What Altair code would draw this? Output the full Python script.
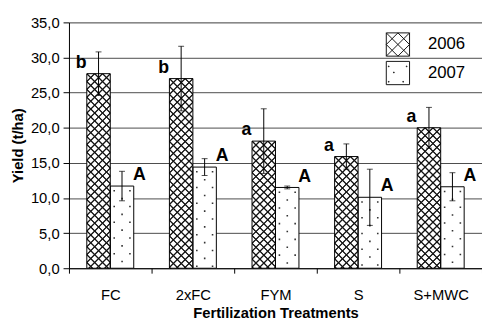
import math
import altair as alt

# ---- data ----
categories = ["FC", "2xFC", "FYM", "S", "S+MWC"]
years = ["2006", "2007"]
yield_2006 = [27.7, 27.0, 18.1, 15.9, 20.0]
sd_2006 = [3.1, 4.6, 4.6, 1.8, 2.9]
yield_2007 = [11.7, 14.4, 11.5, 10.1, 11.6]
sd_2007 = [2.1, 1.2, 0.2, 4.0, 2.0]
letters_2006 = ["b", "b", "a", "a", "a"]
letters_2007 = ["A", "A", "A", "A", "A"]
y_ticks = [0, 5, 10, 15, 20, 25, 30, 35]

# ---- layout / style ----
PLOT_W, PLOT_H, Y_MAX = 420, 250, 35
OUTER = 0.76                      # outer padding of the year offset scale
STEP = PLOT_W / len(categories)
BAR_W = STEP / (2 + 2 * OUTER)
HATCH = 8.0                       # horizontal spacing of hatch lines (px)
INK = "#141414"
FONT = "Liberation Sans"
SLOTS = [f"s{j}" for j in range(10)]
SLOT_PAD = (STEP / 8 - 10) / 2


def hatch(value, kind, bg):
    """Linear gradient that draws 45 degree hatch lines over a bar."""
    w = BAR_W
    h = max(value * PLOT_H / Y_MAX, 1.0)
    s2 = math.sqrt(2)
    L = (w + h) / s2
    k = (w + h) / (w * w + h * h)
    if kind == "back":
        x1, y1, x2, y2 = 0, 1, k * w, 1 - k * h
        phase = (h % HATCH) / s2
    else:
        x1, y1, x2, y2 = 0, 0, k * w, k * h
        phase = 0.0
    period = HATCH / s2
    half = 1.1
    stops = [{"offset": 0, "color": bg}]
    d = phase - period
    while d <= L + period:
        for off, col in ((d - half, bg), (d - 0.25, INK), (d + 0.25, INK), (d + half, bg)):
            t = off / L
            if 0 < t < 1:
                stops.append({"offset": round(t, 5), "color": col})
        d += period
    stops.append({"offset": 1, "color": bg})
    return {"gradient": "linear", "x1": x1, "y1": y1,
            "x2": round(x2, 6), "y2": round(y2, 6), "stops": stops}


rows = []
for i, cat in enumerate(categories):
    for yr, vals, sds, lets in ((years[0], yield_2006, sd_2006, letters_2006),
                                (years[1], yield_2007, sd_2007, letters_2007)):
        v, e = vals[i], sds[i]
        first = yr == years[0]
        rows.append({
            "cat": cat, "year": yr, "value": v, "lo": v - e, "hi": v + e,
            "mid": v / 2, "letter": lets[i],
            "under": hatch(v, "back", "#ffffff") if first else "#ffffff",
            "over": hatch(v, "fwd", "rgba(20,20,20,0)") if first else "rgba(255,255,255,0)",
        })

dot_rows = [{"cat": cat, "slot": s, "value": yield_2007[i]}
            for i, cat in enumerate(categories) for s in ("s5", "s6", "s7")]

data = alt.Data(values=rows)
dots = alt.Data(values=dot_rows)

x_enc = alt.X(
    "cat:N", sort=categories,
    scale=alt.Scale(paddingInner=0, paddingOuter=0),
    axis=alt.Axis(title="Fertilization Treatments", labelAngle=0, tickBand="extent",
                  tickSize=5, tickColor="black", domainColor="black", grid=False,
                  labelFont=FONT, labelFontSize=15, labelColor="black", labelPadding=15,
                  titleFont=FONT, titleFontSize=15, titleFontWeight="bold",
                  titleColor="black", titlePadding=3),
)
xo_year = alt.XOffset("year:N",
                      scale=alt.Scale(domain=years, paddingInner=0, paddingOuter=OUTER))
xo_slot = alt.XOffset("slot:N",
                      scale=alt.Scale(domain=SLOTS, paddingInner=0, paddingOuter=SLOT_PAD))
y_axis = alt.Axis(title="Yield (t/ha)", values=y_ticks,
                  labelExpr="replace(format(datum.value, '.1f'), '.', ',')",
                  tickSize=6, tickColor="black", domainColor="black",
                  gridColor="#4a4a4a", gridWidth=1,
                  labelFont=FONT, labelFontSize=15, labelColor="black", labelPadding=4,
                  titleFont=FONT, titleFontSize=15, titleFontWeight="bold",
                  titleColor="black", titlePadding=5)
y_scale = alt.Scale(domain=[0, Y_MAX], nice=False)


def Y(field):
    return alt.Y(f"{field}:Q", scale=y_scale, axis=y_axis)


P2006 = ("M-1,-1H1V1H-1Z M-1,-1L1,1 M-1,0L0,1 M0,-1L1,0 "
         "M-1,1L1,-1 M0,1L1,0 M-1,0L0,-1")
P2007 = ("M-1,-1H1V1H-1Z M-0.38,-0.08h0.06v0.06h-0.06Z M-0.82,0.72h0.06v0.06h-0.06Z "
         "M0.42,0.72h0.06v0.06h-0.06Z M0.72,-0.6h0.06v0.06h-0.06Z M-0.82,-0.6h0.06v0.06h-0.06Z")

legend_pts = alt.Chart(data).mark_point(filled=False, color=INK, size=20).encode(
    x=x_enc, xOffset=xo_year, y=Y("mid"),
    shape=alt.Shape("year:N", scale=alt.Scale(domain=years, range=[P2006, P2007]),
                    legend=alt.Legend(title=None, orient="none", legendX=322, legendY=10,
                                      padding=0, symbolSize=560, symbolStrokeWidth=1,
                                      symbolStrokeColor=INK, symbolFillColor="white",
                                      symbolOpacity=1, labelFont=FONT, labelFontSize=17,
                                      labelColor="black", labelOffset=18, rowPadding=0)),
)

under = alt.Chart(data).mark_bar().encode(
    x=x_enc, xOffset=xo_year, y=Y("value"),
    fill=alt.Fill("under:N", scale=None),
)

dots_side = alt.Chart(dots).mark_rule(
    strokeDash=[1.6, 14.4], strokeDashOffset=12, strokeWidth=1.6, color="#333333"
).encode(
    x=x_enc, xOffset=xo_slot, y=Y("value"), y2=alt.datum(0),
).transform_filter("datum.slot !== 's6'")

dots_mid = alt.Chart(dots).mark_rule(
    strokeDash=[1.6, 14.4], strokeDashOffset=4, strokeWidth=1.6, color="#333333"
).encode(
    x=x_enc, xOffset=xo_slot, y=Y("value"), y2=alt.datum(0),
).transform_filter("datum.slot === 's6'")

over = alt.Chart(data).mark_bar(stroke="black", strokeWidth=1).encode(
    x=x_enc, xOffset=xo_year, y=Y("value"),
    fill=alt.Fill("over:N", scale=None),
)

err = alt.Chart(data).mark_rule(color="black", strokeWidth=1).encode(
    x=x_enc, xOffset=xo_year, y=Y("lo"), y2="hi:Q",
)
cap_hi = alt.Chart(data).mark_tick(color="black", size=6, thickness=1).encode(
    x=x_enc, xOffset=xo_year, y=Y("hi"),
)
cap_lo = alt.Chart(data).mark_tick(color="black", size=6, thickness=1).encode(
    x=x_enc, xOffset=xo_year, y=Y("lo"),
)

txt_2006 = alt.Chart(data).mark_text(
    dx=-13, dy=-6, baseline="alphabetic", font=FONT, fontSize=18,
    fontWeight="bold", color="black"
).encode(x=x_enc, xOffset=xo_year, y=Y("value"), text="letter:N").transform_filter(
    "datum.year === '2006'")
txt_2007 = alt.Chart(data).mark_text(
    dx=13, dy=-6, baseline="alphabetic", font=FONT, fontSize=18,
    fontWeight="bold", color="black"
).encode(x=x_enc, xOffset=xo_year, y=Y("value"), text="letter:N").transform_filter(
    "datum.year === '2007'")

chart = alt.layer(
    legend_pts, under, dots_side, dots_mid, over, err, cap_hi, cap_lo, txt_2006, txt_2007
).resolve_scale(
    xOffset="independent"
).properties(
    width=PLOT_W, height=PLOT_H,
    autosize=alt.AutoSizeParams(type="none"),
    padding={"left": 62, "top": 12, "right": 0, "bottom": 50},
).configure_view(stroke=None).configure(font=FONT)

chart.save("out.html", embed_options={"renderer": "svg", "actions": False})
